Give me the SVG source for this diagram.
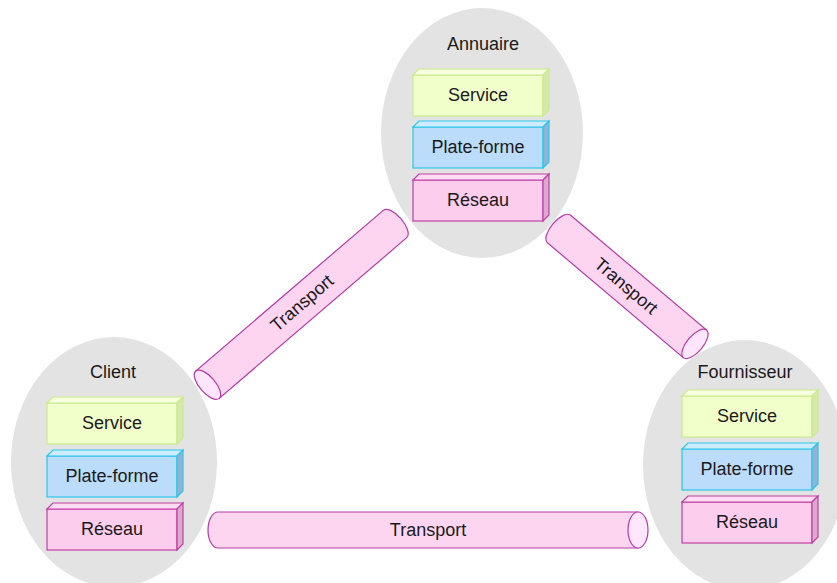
<svg xmlns="http://www.w3.org/2000/svg" width="837" height="583" viewBox="0 0 837 583">
<defs>
<style>
.bg{fill:#e3e3e3;stroke:none}
.lbl{font-family:"Liberation Sans",Arial,sans-serif;font-size:18px;fill:#1a1a1a;text-anchor:middle}
.sv .f{fill:#f1ffcb;stroke:#c9ec8c;stroke-width:1.2}
.sv .t{fill:#f6ffdf;stroke:#c9ec8c;stroke-width:1.2}
.sv .s{fill:#d6e8ab;stroke:#c9ec8c;stroke-width:1.2}
.pf .f{fill:#bcdcfc;stroke:#2ec6e8;stroke-width:1.2}
.pf .t{fill:#cdecfd;stroke:#2ec6e8;stroke-width:1.2}
.pf .s{fill:#8fb4d6;stroke:#2ec6e8;stroke-width:1.2}
.rs .f{fill:#fdcdee;stroke:#c040a4;stroke-width:1.2}
.rs .t{fill:#fedcf3;stroke:#c040a4;stroke-width:1.2}
.rs .s{fill:#dca8cc;stroke:#c040a4;stroke-width:1.2}
.pipe{fill:#fed5f1;stroke:#b43ca4;stroke-width:1.2}
.cap{fill:#ffe6fd;stroke:#b43ca4;stroke-width:1.2}
</style>
</defs>

<g id="annuaire">
<ellipse class="bg" cx="482" cy="133" rx="101" ry="125"/>
<text class="lbl" x="483" y="50">Annuaire</text>
<g class="sv" transform="translate(413,75)"><rect class="f" x="0" y="0" width="130" height="41"/><polygon class="t" points="0,0 6,-6 136,-6 130,0"/><polygon class="s" points="130,0 136,-6 136,35 130,41"/><text class="lbl" x="65" y="26">Service</text></g>
<g class="pf" transform="translate(413,127)"><rect class="f" x="0" y="0" width="130" height="41"/><polygon class="t" points="0,0 6,-6 136,-6 130,0"/><polygon class="s" points="130,0 136,-6 136,35 130,41"/><text class="lbl" x="65" y="26">Plate-forme</text></g>
<g class="rs" transform="translate(413,180)"><rect class="f" x="0" y="0" width="130" height="41"/><polygon class="t" points="0,0 6,-6 136,-6 130,0"/><polygon class="s" points="130,0 136,-6 136,35 130,41"/><text class="lbl" x="65" y="26">Réseau</text></g>
</g>

<g id="client">
<ellipse class="bg" cx="114" cy="462" rx="103" ry="125"/>
<text class="lbl" x="113" y="378">Client</text>
<g class="sv" transform="translate(47,403)"><rect class="f" x="0" y="0" width="130" height="41"/><polygon class="t" points="0,0 6,-6 136,-6 130,0"/><polygon class="s" points="130,0 136,-6 136,35 130,41"/><text class="lbl" x="65" y="26">Service</text></g>
<g class="pf" transform="translate(47,456)"><rect class="f" x="0" y="0" width="130" height="41"/><polygon class="t" points="0,0 6,-6 136,-6 130,0"/><polygon class="s" points="130,0 136,-6 136,35 130,41"/><text class="lbl" x="65" y="26">Plate-forme</text></g>
<g class="rs" transform="translate(47,509)"><rect class="f" x="0" y="0" width="130" height="41"/><polygon class="t" points="0,0 6,-6 136,-6 130,0"/><polygon class="s" points="130,0 136,-6 136,35 130,41"/><text class="lbl" x="65" y="26">Réseau</text></g>
</g>

<g id="fournisseur">
<ellipse class="bg" cx="745" cy="465" rx="102" ry="125"/>
<text class="lbl" x="745" y="378">Fournisseur</text>
<g class="sv" transform="translate(682,396)"><rect class="f" x="0" y="0" width="130" height="41"/><polygon class="t" points="0,0 6,-6 136,-6 130,0"/><polygon class="s" points="130,0 136,-6 136,35 130,41"/><text class="lbl" x="65" y="26">Service</text></g>
<g class="pf" transform="translate(682,449)"><rect class="f" x="0" y="0" width="130" height="41"/><polygon class="t" points="0,0 6,-6 136,-6 130,0"/><polygon class="s" points="130,0 136,-6 136,35 130,41"/><text class="lbl" x="65" y="26">Plate-forme</text></g>
<g class="rs" transform="translate(682,502)"><rect class="f" x="0" y="0" width="130" height="41"/><polygon class="t" points="0,0 6,-6 136,-6 130,0"/><polygon class="s" points="130,0 136,-6 136,35 130,41"/><text class="lbl" x="65" y="26">Réseau</text></g>
</g>

<g id="connectors">
<g id="transport-client-annuaire">
<g transform="translate(395,224) rotate(139.4)">
<path class="pipe" d="M0,-18 L247,-18 L247,18 L0,18 A8,18 0 0 1 0,-18 Z"/>
<ellipse class="cap" cx="247" cy="0" rx="8" ry="18"/>
</g>
<text class="lbl" transform="translate(302,303) rotate(-40.6)" x="0" y="6">Transport</text>
</g>
<g id="transport-annuaire-fournisseur">
<g transform="translate(559,229) rotate(40.2)">
<path class="pipe" d="M0,-18 L178,-18 L178,18 L0,18 A8,18 0 0 1 0,-18 Z"/>
<ellipse class="cap" cx="178" cy="0" rx="8" ry="18"/>
</g>
<text class="lbl" transform="translate(626,286) rotate(40.2)" x="0" y="6">Transport</text>
</g>
<g id="transport-client-fournisseur">
<g transform="translate(218,530)">
<path class="pipe" d="M0,-18 L420,-18 L420,18 L0,18 A10,18 0 0 1 0,-18 Z"/>
<ellipse class="cap" cx="420" cy="0" rx="10" ry="18"/>
</g>
<text class="lbl" x="428" y="536">Transport</text>
</g>
</g>
</svg>
